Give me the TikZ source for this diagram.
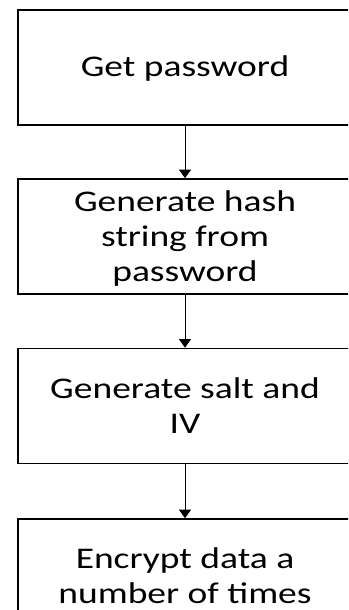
\documentclass[tikz,border=0pt]{standalone}
\usepackage{fontspec}
\setmainfont{Carlito}[FakeStretch=1.25]
\usetikzlibrary{arrows.meta}
% line strut: 27pt above the baseline, 8pt below, one 35pt line in total
\newcommand\lnstrut{\rule[-8pt]{0pt}{35pt}}
\tikzset{
  stepbox/.style={draw=black, line width=1.7pt, minimum width=334pt, minimum height=115pt,
    inner sep=0pt, align=center, font=\fontsize{30}{35}\selectfont},
  flow/.style={draw=black, line width=1pt, -{Triangle[width=12pt,length=8.5pt]}}
}
\begin{document}
\begin{tikzpicture}[x=1pt, y=-1pt]
  \useasboundingbox (0,0) rectangle (348,610);
  \clip (0,0) rectangle (348,610);
  \node[stepbox] (get) at (185,67.5) {\lnstrut Get password};
  \node[stepbox] (hash) at (185,236.5) {\lnstrut Generate hash\\\lnstrut string from\\\lnstrut password};
  \node[stepbox] (salt) at (185,406) {\lnstrut Generate salt and\\\lnstrut IV};
  \node[stepbox] (enc) at (185,576.5) {\lnstrut Encrypt data a\\\lnstrut number of times};
  \draw[flow] (get) -- (hash);
  \draw[flow] (hash) -- (salt);
  \draw[flow] (salt) -- (enc);
\end{tikzpicture}
\end{document}
